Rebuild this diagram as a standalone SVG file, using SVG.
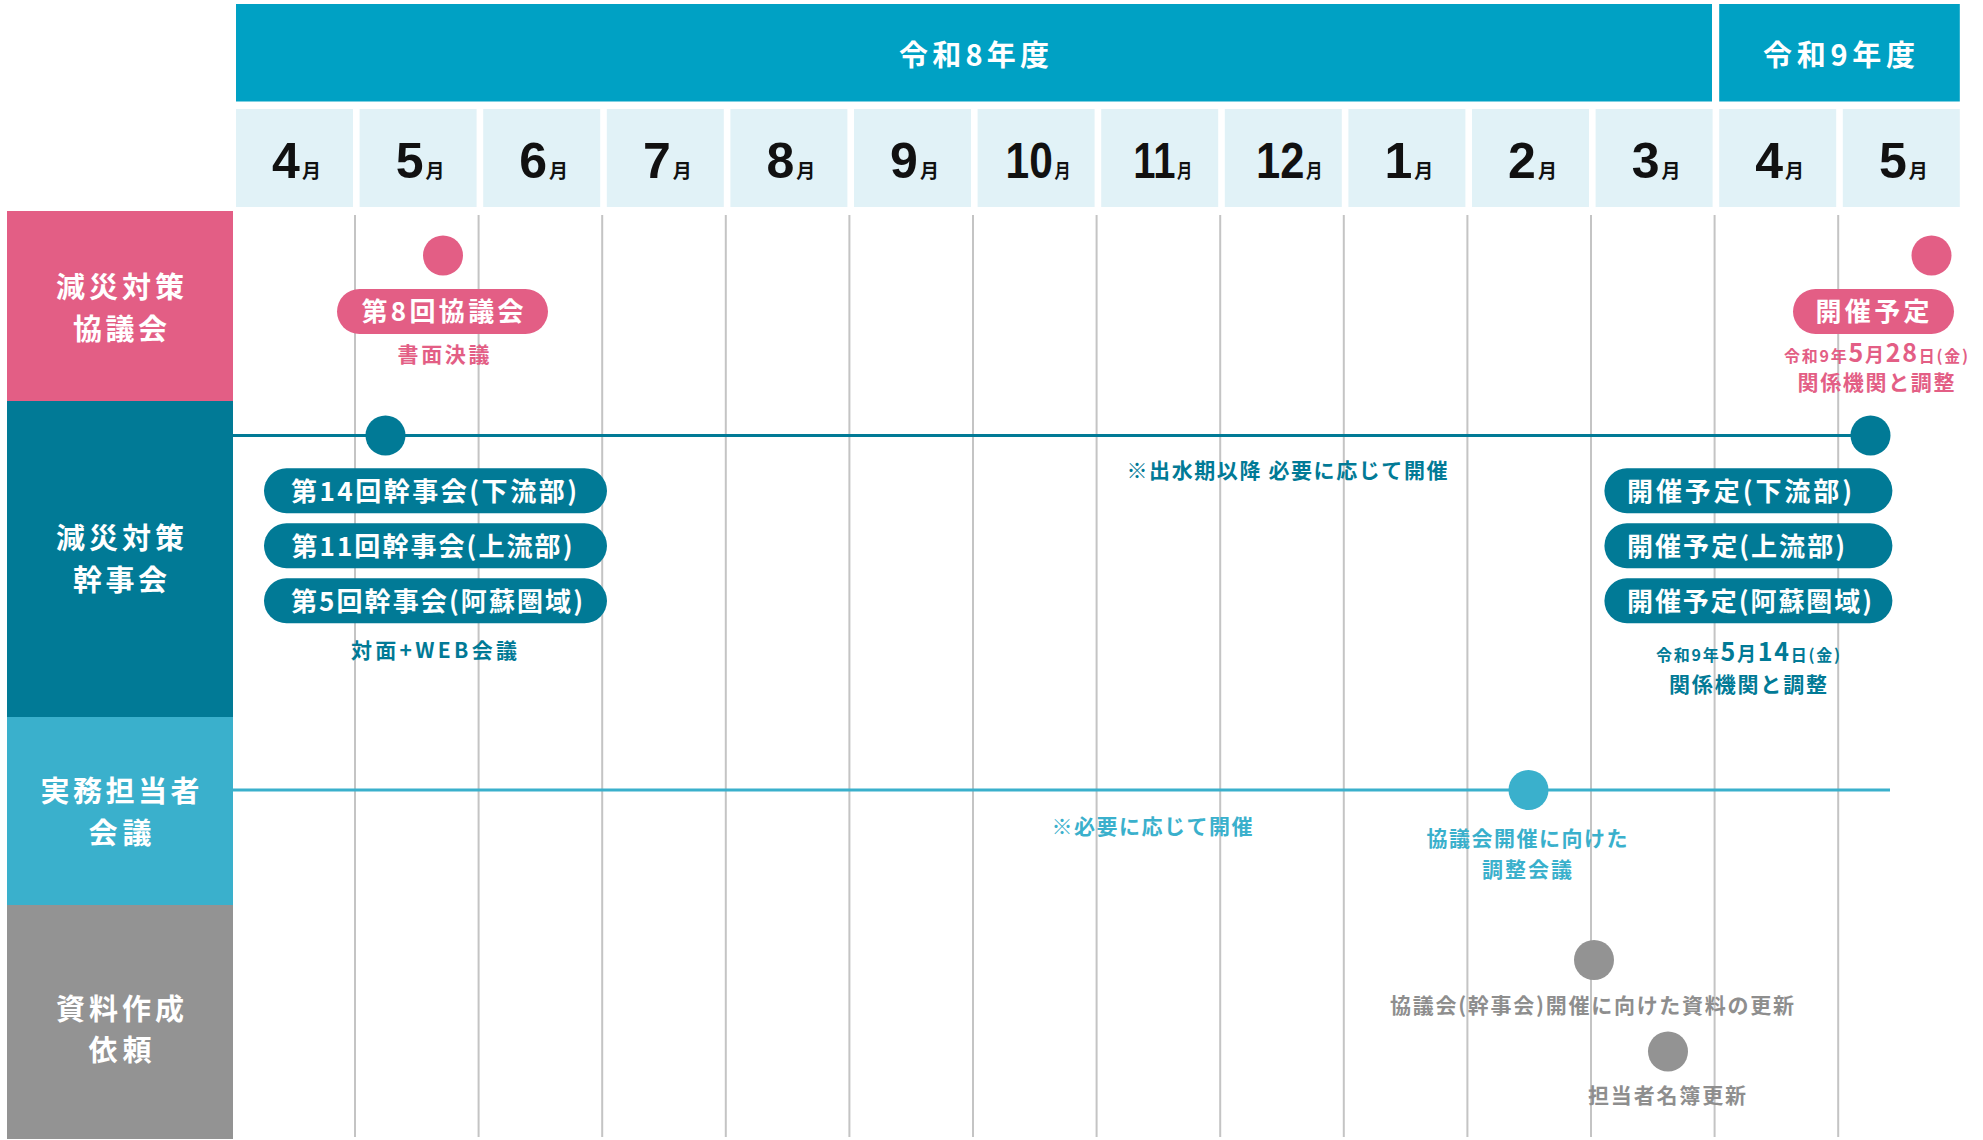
<svg xmlns="http://www.w3.org/2000/svg" width="1983" height="1140" viewBox="0 0 1983 1140">
<style>
.jp{font-family:"Noto Sans CJK JP","Noto Sans",sans-serif;font-weight:700}
.c{text-anchor:middle;dominant-baseline:central}
.l{dominant-baseline:central}
.w{fill:#fff}
.hdr{font-size:29px}
.lbl{font-size:29px}
.pt{font-size:26px}
.sm{font-size:21px}
.mn{font-family:"Liberation Sans Narrow","Liberation Sans",sans-serif;font-weight:700;font-size:50px;fill:#111}
.mo{font-family:"Noto Sans CJK JP",sans-serif;font-weight:700;font-size:19px;fill:#111}
.grid line{stroke:#c4c4c4;stroke-width:2}
.pk{fill:#e35e85}.tl{fill:#017a96}.lb{fill:#3ab0cc}.gy{fill:#939393}.gyt{fill:#8e8e8e}
.cell{fill:#e1f2f7}
.yr{fill:#00a1c4}
</style>

<g id="year-headers">
<rect class="yr" x="236" y="4" width="1476" height="97.5"/>
<text class="jp c w hdr" x="974" y="52.5" textLength="150">令和8年度</text>
<rect class="yr" x="1719.2" y="4" width="240.6" height="97.5"/>
<text class="jp c w hdr" x="1839" y="52.5" textLength="152">令和9年度</text>
</g>

<g id="month-headers">
<rect class="cell" x="236" y="109" width="117" height="98"/>
<rect class="cell" x="359.6" y="109" width="117" height="98"/>
<rect class="cell" x="483.2" y="109" width="117" height="98"/>
<rect class="cell" x="606.8" y="109" width="117" height="98"/>
<rect class="cell" x="730.4" y="109" width="117" height="98"/>
<rect class="cell" x="854" y="109" width="117" height="98"/>
<rect class="cell" x="977.6" y="109" width="117" height="98"/>
<rect class="cell" x="1101.2" y="109" width="117" height="98"/>
<rect class="cell" x="1224.8" y="109" width="117" height="98"/>
<rect class="cell" x="1348.4" y="109" width="117" height="98"/>
<rect class="cell" x="1472" y="109" width="117" height="98"/>
<rect class="cell" x="1595.6" y="109" width="117" height="98"/>
<rect class="cell" x="1719.2" y="109" width="117" height="98"/>
<rect class="cell" x="1842.8" y="109" width="117" height="98"/>
<text x="296.5" y="178" text-anchor="middle"><tspan class="mn">4</tspan><tspan class="mo" dx="2">月</tspan></text>
<text x="420.1" y="178" text-anchor="middle"><tspan class="mn">5</tspan><tspan class="mo" dx="2">月</tspan></text>
<text x="543.7" y="178" text-anchor="middle"><tspan class="mn">6</tspan><tspan class="mo" dx="2">月</tspan></text>
<text x="667.3" y="178" text-anchor="middle"><tspan class="mn">7</tspan><tspan class="mo" dx="2">月</tspan></text>
<text x="790.9" y="178" text-anchor="middle"><tspan class="mn">8</tspan><tspan class="mo" dx="2">月</tspan></text>
<text x="914.5" y="178" text-anchor="middle"><tspan class="mn">9</tspan><tspan class="mo" dx="2">月</tspan></text>
<text transform="translate(1038.1 178) scale(0.85 1)" x="0" y="0" text-anchor="middle"><tspan class="mn">10</tspan><tspan class="mo" dx="2">月</tspan></text>
<text transform="translate(1162.7 178) scale(0.8 1)" x="0" y="0" text-anchor="middle"><tspan class="mn">11</tspan><tspan class="mo" dx="2">月</tspan></text>
<text transform="translate(1289.3 178) scale(0.87 1)" x="0" y="0" text-anchor="middle"><tspan class="mn">12</tspan><tspan class="mo" dx="2">月</tspan></text>
<text x="1408.9" y="178" text-anchor="middle"><tspan class="mn">1</tspan><tspan class="mo" dx="2">月</tspan></text>
<text x="1532.5" y="178" text-anchor="middle"><tspan class="mn">2</tspan><tspan class="mo" dx="2">月</tspan></text>
<text x="1656.1" y="178" text-anchor="middle"><tspan class="mn">3</tspan><tspan class="mo" dx="2">月</tspan></text>
<text x="1779.7" y="178" text-anchor="middle"><tspan class="mn">4</tspan><tspan class="mo" dx="2">月</tspan></text>
<text x="1903.3" y="178" text-anchor="middle"><tspan class="mn">5</tspan><tspan class="mo" dx="2">月</tspan></text>
</g>

<g id="row-labels">
<g id="label-kyogikai">
<rect class="pk" x="7" y="211" width="226" height="190"/>
<text class="jp c w lbl" x="120" y="285" textLength="128">減災対策</text>
<text class="jp c w lbl" x="120" y="327" textLength="94">協議会</text>
</g>
<g id="label-kanjikai">
<rect class="tl" x="7" y="401" width="226" height="316"/>
<text class="jp c w lbl" x="120" y="536" textLength="128">減災対策</text>
<text class="jp c w lbl" x="120" y="578" textLength="94">幹事会</text>
</g>
<g id="label-jitsumu">
<rect class="lb" x="7" y="717" width="226" height="188"/>
<text class="jp c w lbl" x="120" y="788.5" textLength="159">実務担当者</text>
<text class="jp c w lbl" x="120" y="831" textLength="63">会議</text>
</g>
<g id="label-shiryo">
<rect class="gy" x="7" y="905" width="226" height="234"/>
<text class="jp c w lbl" x="120" y="1006.5" textLength="128">資料作成</text>
<text class="jp c w lbl" x="120" y="1048" textLength="63">依頼</text>
</g>
</g>

<g id="grid" class="grid">
<line x1="355" y1="215" x2="355" y2="1137"/>
<line x1="478.6" y1="215" x2="478.6" y2="1137"/>
<line x1="602.2" y1="215" x2="602.2" y2="1137"/>
<line x1="725.8" y1="215" x2="725.8" y2="1137"/>
<line x1="849.4" y1="215" x2="849.4" y2="1137"/>
<line x1="973" y1="215" x2="973" y2="1137"/>
<line x1="1096.6" y1="215" x2="1096.6" y2="1137"/>
<line x1="1220.2" y1="215" x2="1220.2" y2="1137"/>
<line x1="1343.8" y1="215" x2="1343.8" y2="1137"/>
<line x1="1467.4" y1="215" x2="1467.4" y2="1137"/>
<line x1="1591" y1="215" x2="1591" y2="1137"/>
<line x1="1714.6" y1="215" x2="1714.6" y2="1137"/>
<line x1="1838.2" y1="215" x2="1838.2" y2="1137"/>
</g>

<g id="connectors">
<line x1="233" y1="435.5" x2="1870" y2="435.5" stroke="#017a96" stroke-width="3"/>
<line x1="233" y1="790" x2="1890" y2="790" stroke="#3ab0cc" stroke-width="3"/>
</g>

<g id="kyogikai-8">
<circle class="pk" cx="443" cy="255.5" r="20"/>
<rect class="pk" x="337" y="289" width="211" height="45" rx="22.5"/>
<text class="jp c w pt" x="442.5" y="309.8" textLength="162">第8回協議会</text>
<text class="jp c pk sm" x="443.5" y="352.5" textLength="92">書面決議</text>
</g>

<g id="kyogikai-next">
<circle class="pk" cx="1931.5" cy="255.5" r="20"/>
<rect class="pk" x="1793" y="289" width="161" height="45" rx="22.5"/>
<text class="jp c w pt" x="1872.5" y="309.8" textLength="114">開催予定</text>
<text class="jp pk" x="1876" y="362" text-anchor="middle" textLength="184"><tspan font-size="16">令和9年</tspan><tspan font-size="25">5</tspan><tspan font-size="19">月</tspan><tspan font-size="25">28</tspan><tspan font-size="16">日(金)</tspan></text>
<text class="jp c pk sm" x="1876" y="381" textLength="157">関係機関と調整</text>
</g>

<g id="kanjikai-current">
<circle class="tl" cx="385.5" cy="435.5" r="20"/>
<rect class="tl" x="264" y="468.3" width="343" height="45" rx="22.5"/>
<text class="jp c w pt" x="434" y="489" textLength="286">第14回幹事会(下流部)</text>
<rect class="tl" x="264" y="523.3" width="343" height="45" rx="22.5"/>
<text class="jp c w pt" x="432" y="544" textLength="281">第11回幹事会(上流部)</text>
<rect class="tl" x="264" y="578.3" width="343" height="45" rx="22.5"/>
<text class="jp c w pt" x="437" y="599" textLength="292">第5回幹事会(阿蘇圏域)</text>
<text class="jp c tl sm" x="434" y="649" textLength="166">対面+WEB会議</text>
</g>

<g id="kanjikai-note">
<text class="jp c tl sm" x="1287" y="468.5" textLength="321">※出水期以降 必要に応じて開催</text>
</g>

<g id="kanjikai-next">
<circle class="tl" cx="1870.5" cy="435.5" r="20"/>
<rect class="tl" x="1604.4" y="468.3" width="288" height="45" rx="22.5"/>
<text class="jp l w pt" x="1627" y="489" textLength="225">開催予定(下流部)</text>
<rect class="tl" x="1604.4" y="523.3" width="288" height="45" rx="22.5"/>
<text class="jp l w pt" x="1627" y="544" textLength="218">開催予定(上流部)</text>
<rect class="tl" x="1604.4" y="578.3" width="288" height="45" rx="22.5"/>
<text class="jp l w pt" x="1627" y="599" textLength="245">開催予定(阿蘇圏域)</text>
<text class="jp tl" x="1748" y="661" text-anchor="middle" textLength="184"><tspan font-size="16">令和9年</tspan><tspan font-size="25">5</tspan><tspan font-size="19">月</tspan><tspan font-size="25">14</tspan><tspan font-size="16">日(金)</tspan></text>
<text class="jp c tl sm" x="1748" y="682.5" textLength="158">関係機関と調整</text>
</g>

<g id="jitsumu-note">
<text class="jp c lb sm" x="1152" y="824.5" textLength="201">※必要に応じて開催</text>
</g>

<g id="jitsumu-meeting">
<circle class="lb" cx="1528.5" cy="790" r="20"/>
<text class="jp c lb sm" x="1527" y="836.5" textLength="201">協議会開催に向けた</text>
<text class="jp c lb sm" x="1527" y="867.5" textLength="90">調整会議</text>
</g>

<g id="shiryo-update">
<circle class="gy" cx="1594" cy="960" r="20"/>
<text class="jp c gyt sm" x="1592" y="1003.5" textLength="404">協議会(幹事会)開催に向けた資料の更新</text>
</g>

<g id="meibo-update">
<circle class="gy" cx="1668" cy="1051.5" r="20"/>
<text class="jp c gyt sm" x="1667" y="1094" textLength="158">担当者名簿更新</text>
</g>
</svg>
